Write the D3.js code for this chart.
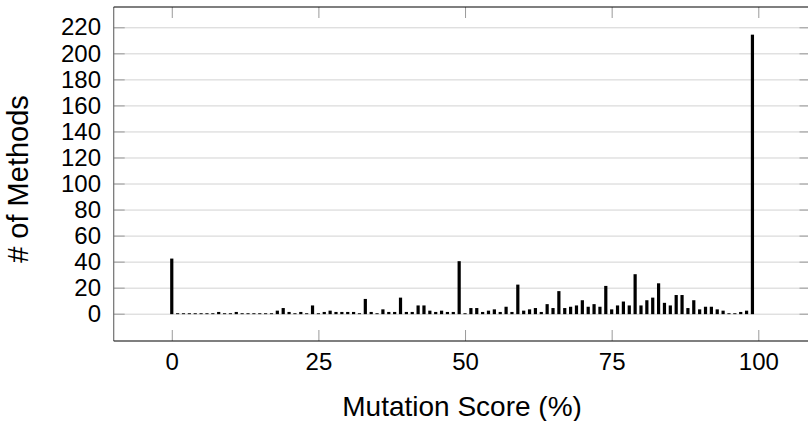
<!DOCTYPE html>
<html><head><meta charset="utf-8">
<script src="https://cdn.jsdelivr.net/npm/d3@7"></script>
<style>
html,body{margin:0;padding:0;background:#fff;}
text{font-family:"Liberation Sans",Arial,sans-serif;fill:#000;}
</style></head>
<body>
<svg id="chart" width="808" height="421"></svg>
<script>
// Mutation score bins (0..99) and number of methods per bin
const scores = d3.range(0, 100);
const methods = [
 42,0,0,0,0,0,0,0,1,0,
 0,1,0,0,0,0,0,0,2,4,
 1,0,1,0,6,0,1,2,1,1,
 1,1,0,11,1,0,3,1,1,12,
 1,1,6,6,2,1,2,1,1,40,
 0,4,4,1,2,3,1,5,1,22,
 2,3,4,1,7,4,17,4,5,6,
 10,5,7,5,21,3,6,9,6,30,
 6,10,12,23,8,6,14,14,4,10,
 3,5,5,3,2,0,0,1,2,214
];
const xTicks = [0, 25, 50, 75, 100];
const yTicks = [0,20,40,60,80,100,120,140,160,180,200,220];
const xLabel = "Mutation Score (%)";
const yLabel = "# of Methods";

const L = 113.7, R = 810.5, T = 7, B = 341;
const svg = d3.select("#chart");
const x = d3.scaleLinear().domain([-9.9, 108.9]).range([L, R]);
const y = d3.scaleLinear().domain([-20.97, 235.6]).range([B, T]);

// grid
const grid = svg.append("g").attr("transform", `translate(${L},0)`)
  .call(d3.axisLeft(y).tickValues(yTicks).tickSize(-(R - L)).tickFormat(""));
grid.select(".domain").remove();
grid.selectAll("line").attr("stroke", "#d2d2d2").attr("stroke-width", 1);

// bars
svg.append("g").selectAll("rect").data(scores).join("rect")
  .attr("x", d => x(d) - 1.6)
  .attr("width", 3.2)
  .attr("y", (d, i) => y(methods[i]) - 0.45)
  .attr("height", (d, i) => y(0) - y(methods[i]) + 0.9)
  .attr("fill", "#000");

const tickCol = "#9a9a9a";
// left axis
const ax = svg.append("g").attr("transform", `translate(${L},0)`)
  .call(d3.axisLeft(y).tickValues(yTicks).tickSizeInner(-11).tickSizeOuter(0).tickPadding(12.7));
ax.select(".domain").remove();
ax.selectAll("line").attr("stroke", tickCol);
ax.selectAll("text").attr("font-size", 24).attr("font-family", "Liberation Sans");
// right axis
const ar = svg.append("g").attr("transform", `translate(${R},0)`)
  .call(d3.axisRight(y).tickValues(yTicks).tickSizeInner(-11).tickSizeOuter(0).tickFormat(""));
ar.select(".domain").remove();
ar.selectAll("line").attr("stroke", tickCol);
// bottom axis
const ab = svg.append("g").attr("transform", `translate(0,${B})`)
  .call(d3.axisBottom(x).tickValues(xTicks).tickSizeInner(-11).tickSizeOuter(0).tickPadding(12));
ab.select(".domain").remove();
ab.selectAll("line").attr("stroke", tickCol);
ab.selectAll("text").attr("font-size", 24).attr("font-family", "Liberation Sans");
// top axis
const at = svg.append("g").attr("transform", `translate(0,${T})`)
  .call(d3.axisTop(x).tickValues(xTicks).tickSizeInner(-11).tickSizeOuter(0).tickFormat(""));
at.select(".domain").remove();
at.selectAll("line").attr("stroke", tickCol);

// frame
svg.append("line").attr("x1", L).attr("x2", L).attr("y1", T).attr("y2", B).attr("stroke", "#707070").attr("stroke-width", 1.2);
svg.append("line").attr("x1", L).attr("x2", R).attr("y1", B).attr("y2", B).attr("stroke", "#000").attr("stroke-width", 1.2);
svg.append("line").attr("x1", L).attr("x2", R).attr("y1", T).attr("y2", T).attr("stroke", "#000").attr("stroke-width", 1.2);
svg.append("line").attr("x1", R).attr("x2", R).attr("y1", T).attr("y2", B).attr("stroke", "#000").attr("stroke-width", 1.2);

// labels
svg.append("text").attr("x", (L + R) / 2).attr("y", 416).attr("text-anchor", "middle")
  .attr("font-size", 28).text(xLabel);
svg.append("text").attr("transform", `translate(28,179) rotate(-90)`)
  .attr("text-anchor", "middle").attr("font-size", 29).text(yLabel);
</script>
</body></html>
